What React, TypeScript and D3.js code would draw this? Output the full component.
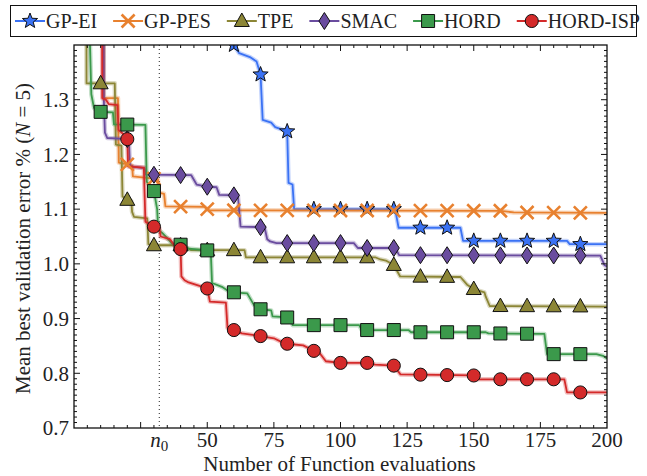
import React, { Component } from 'react';
import * as d3 from 'd3';

// mean best error (%) vs. evaluations as [eval, value] breakpoints
const gpEI = [
  [50, 1.7], [58, 1.45], [60, 1.40], [62, 1.385], [66, 1.378], [68.5, 1.37], [70, 1.346],
  [70.8, 1.263], [74, 1.258], [75.5, 1.25], [80, 1.242], [80.5, 1.148], [82, 1.145],
  [82.6, 1.10], [120.5, 1.10], [121.8, 1.066], [145, 1.066], [146, 1.042], [185, 1.042],
  [186, 1.036], [200, 1.036],
];
const gpPES = [
  [11, 1.9], [11.2, 1.303], [16.5, 1.303], [16.8, 1.185], [21.8, 1.18], [22.1, 1.16],
  [27.3, 1.157], [31.5, 1.155], [31.8, 1.13], [33.8, 1.128], [34.3, 1.105], [49, 1.104],
  [50.5, 1.098], [160, 1.097], [165, 1.094], [200, 1.093],
];
const tpe = [
  [4.5, 1.9], [4.7, 1.33], [15.3, 1.33], [15.7, 1.218], [17.8, 1.216], [18.2, 1.123],
  [20, 1.117], [21.5, 1.115], [21.8, 1.095], [22.5, 1.086], [27.5, 1.083], [27.9, 1.036],
  [30, 1.034], [40, 1.034], [42.3, 1.029], [44, 1.025], [64, 1.025], [64.5, 1.012],
  [113, 1.012], [115, 1.008], [117, 1.006], [120, 0.998], [122.4, 0.977], [145, 0.976],
  [147.5, 0.962], [150, 0.954], [154, 0.948], [154.5, 0.940], [156, 0.923], [200, 0.922],
];
const smac = [
  [11, 1.9], [11.2, 1.30], [11.6, 1.24], [12.5, 1.23], [20.6, 1.228], [21, 1.178],
  [26.5, 1.175], [27, 1.163], [44, 1.162], [46, 1.145], [50, 1.141], [53.5, 1.14],
  [54.5, 1.126], [61.5, 1.125], [62.5, 1.068], [71.5, 1.067], [72.5, 1.045], [73.6, 1.041],
  [76, 1.038], [105, 1.038], [106.5, 1.029], [120.5, 1.029], [122, 1.016], [197.5, 1.015],
  [199, 0.998], [200, 0.995],
];
const hord = [
  [5.8, 1.9], [6.0, 1.40], [6.5, 1.31], [7.5, 1.285], [9, 1.278], [14.6, 1.277], [15, 1.255],
  [26.8, 1.254], [27.3, 1.15], [30, 1.133], [31.2, 1.10], [31.6, 1.062], [33, 1.057],
  [35, 1.047], [37, 1.036], [40, 1.035], [43, 1.028], [51.3, 1.024], [51.8, 0.965],
  [55.5, 0.958], [58, 0.95], [60, 0.948], [65, 0.946], [67.5, 0.925], [70, 0.917],
  [74, 0.915], [74.5, 0.904], [80, 0.902], [81.5, 0.90], [82, 0.888], [107, 0.888],
  [108, 0.879], [125.5, 0.879], [126.5, 0.875], [154.5, 0.875], [155.5, 0.873],
  [176.5, 0.872], [177.5, 0.835], [196, 0.835], [198.5, 0.832], [200, 0.827],
];
const hordISP = [
  [10.4, 1.9], [10.6, 1.303], [12, 1.30], [13, 1.292], [16.3, 1.29], [16.7, 1.245],
  [19, 1.235], [20, 1.228], [20.3, 1.178], [26.2, 1.176], [26.8, 1.077], [30, 1.068],
  [32, 1.066], [32.5, 1.05], [36, 1.045], [38, 1.032], [40, 1.027], [40.3, 0.977],
  [41.5, 0.97], [43, 0.966], [50, 0.955], [51, 0.931], [57, 0.929], [57.6, 0.883],
  [60, 0.879], [63, 0.873], [70, 0.868], [75, 0.864], [78, 0.857], [80, 0.854], [86, 0.851],
  [90, 0.841], [92, 0.838], [94.5, 0.822], [100, 0.819], [110, 0.819], [113, 0.816],
  [120, 0.814], [122.5, 0.798], [150, 0.796], [151, 0.789], [184, 0.789], [185, 0.765],
  [200, 0.765],
];

const names = ['GP-EI', 'GP-PES', 'TPE', 'SMAC', 'HORD', 'HORD-ISP'];
const colors = ['#3a72f4', '#e8812f', '#8c8636', '#6a4c9f', '#3b994b', '#d42a2a'];
const shapes = ['star', 'x', 'triangle', 'diamond', 'square', 'circle'];
const allSeries = [gpEI, gpPES, tpe, smac, hord, hordISP];
const markerX = d3.range(10, 200, 10);
const n0 = 32;
const yTicks = [0.7, 0.8, 0.9, 1.0, 1.1, 1.2, 1.3];
const xTickLabels = [50, 75, 100, 125, 150, 175, 200];

function valueAt(pts, x) {
  if (x < pts[0][0]) return 2;
  for (let i = 1; i < pts.length; i++) {
    if (x <= pts[i][0]) {
      const t = (x - pts[i - 1][0]) / (pts[i][0] - pts[i - 1][0]);
      return pts[i - 1][1] + t * (pts[i][1] - pts[i - 1][1]);
    }
  }
  return pts[pts.length - 1][1];
}

function markerPath(shape) {
  if (shape === 'star') {
    let p = [];
    for (let i = 0; i < 10; i++) {
      const r = i % 2 === 0 ? 8 : 3.4;
      const a = -Math.PI / 2 + (i * Math.PI) / 5;
      p.push([r * Math.cos(a), r * Math.sin(a)]);
    }
    return 'M' + p.map(d => d.join(',')).join('L') + 'Z';
  }
  if (shape === 'triangle') return 'M0,-8L7.5,5.5L-7.5,5.5Z';
  if (shape === 'diamond') return 'M0,-8.5L5.5,0L0,8.5L-5.5,0Z';
  if (shape === 'square') return 'M-6.5,-6.5L6.5,-6.5L6.5,6.5L-6.5,6.5Z';
  if (shape === 'x') return 'M-6.5,-6.5L6.5,6.5M-6.5,6.5L6.5,-6.5';
  return d3.symbol(d3.symbolCircle, 135)();
}

function drawMarker(g, shape, color, x, y) {
  const m = g.append('path')
    .attr('d', markerPath(shape))
    .attr('transform', `translate(${x},${y})`);
  if (shape === 'x') {
    m.attr('fill', 'none').attr('stroke', color).attr('stroke-width', 2.6);
  } else {
    m.attr('fill', color).attr('stroke', '#111').attr('stroke-width', 1);
  }
}

class App extends Component {
  node: any = null;

  componentDidMount() {
    document.body.style.margin = '0';
    const L = 74, R = 607, T = 45, B = 428;
    const font = '"Liberation Serif", "DejaVu Serif", serif';
    const svg = d3.select(this.node);
    svg.selectAll('*').remove();

    const x = d3.scaleLinear().domain([0, 200]).range([L, R]);
    const y = d3.scaleLinear().domain([0.7, 1.4]).range([B, T]);

    svg.append('rect').attr('width', 647).attr('height', 476).attr('fill', '#fff');
    svg.append('defs').append('clipPath').attr('id', 'plotclip')
      .append('rect').attr('x', L).attr('y', T).attr('width', R - L).attr('height', B - T);

    const plot = svg.append('g').attr('clip-path', 'url(#plotclip)');

    // n0 marker line
    plot.append('line')
      .attr('x1', x(n0)).attr('x2', x(n0)).attr('y1', T).attr('y2', B)
      .attr('stroke', '#222').attr('stroke-width', 1).attr('stroke-dasharray', '1,3');

    const line = d3.line().x(d => x(d[0])).y(d => y(d[1]));

    allSeries.forEach((s, i) => {
      plot.append('path').attr('d', line(s)).attr('fill', 'none')
        .attr('stroke', colors[i]).attr('stroke-width', 4.5).attr('stroke-opacity', 0.3)
        .attr('stroke-linejoin', 'round');
      plot.append('path').attr('d', line(s)).attr('fill', 'none')
        .attr('stroke', colors[i]).attr('stroke-width', 1.8)
        .attr('stroke-linejoin', 'round');
    });
    allSeries.forEach((s, i) => {
      markerX.forEach(mx => {
        const v = valueAt(s, mx);
        if (v > 1.45) return;
        drawMarker(plot, shapes[i], colors[i], x(mx), y(v));
      });
    });

    // axes frame
    svg.append('rect').attr('x', L).attr('y', T).attr('width', R - L).attr('height', B - T)
      .attr('fill', 'none').attr('stroke', '#111').attr('stroke-width', 1.3);

    const ticks = svg.append('g').attr('stroke', '#111').attr('stroke-width', 1);
    d3.range(5, 200, 5).forEach(v => {
      const len = v % 25 === 0 ? 6 : 3;
      ticks.append('line').attr('x1', x(v)).attr('x2', x(v)).attr('y1', B).attr('y2', B - len);
      ticks.append('line').attr('x1', x(v)).attr('x2', x(v)).attr('y1', T).attr('y2', T + len);
    });
    d3.range(71, 140, 1).forEach(k => {
      const v = k / 100;
      const len = k % 10 === 0 ? 6 : 3;
      ticks.append('line').attr('x1', L).attr('x2', L + len).attr('y1', y(v)).attr('y2', y(v));
      ticks.append('line').attr('x1', R).attr('x2', R - len).attr('y1', y(v)).attr('y2', y(v));
    });

    const txt = svg.append('g').attr('font-family', font).attr('font-size', 21).attr('fill', '#222');
    yTicks.forEach(v => {
      txt.append('text').attr('x', L - 5).attr('y', y(v)).attr('dy', '0.35em')
        .attr('text-anchor', 'end').text(d3.format('.1f')(v));
    });
    xTickLabels.forEach(v => {
      txt.append('text').attr('x', x(v)).attr('y', B + 19).attr('text-anchor', 'middle').text(v);
    });
    const n0t = txt.append('text').attr('x', x(n0)).attr('y', B + 19).attr('text-anchor', 'middle');
    n0t.append('tspan').attr('font-style', 'italic').text('n');
    n0t.append('tspan').attr('font-size', 15).attr('dy', 4).text('0');

    txt.append('text').attr('x', (L + R) / 2 - 1).attr('y', 471).attr('text-anchor', 'middle')
      .text('Number of Function evaluations');
    const yl = txt.append('text')
      .attr('transform', `translate(30,${(T + B) / 2 + 2}) rotate(-90)`)
      .attr('text-anchor', 'middle');
    yl.append('tspan').text('Mean best validation error % (');
    yl.append('tspan').attr('font-style', 'italic').text('N');
    yl.append('tspan').text(' = 5)');

    // legend
    const leg = svg.append('g');
    leg.append('rect').attr('x', 10.5).attr('y', 5.5).attr('width', 626).attr('height', 31)
      .attr('fill', '#fff').attr('stroke', '#111').attr('stroke-width', 1);
    let cx = 15;
    names.forEach((n, i) => {
      leg.append('line').attr('x1', cx).attr('x2', cx + 30).attr('y1', 21).attr('y2', 21)
        .attr('stroke', colors[i]).attr('stroke-width', 2);
      drawMarker(leg, shapes[i], colors[i], cx + 15, 21);
      const t = leg.append('text').attr('x', cx + 31).attr('y', 28)
        .attr('font-family', font).attr('font-size', 20).attr('fill', '#222').text(n);
      const w = (t.node() as any).getComputedTextLength();
      cx += 31 + w + 16;
    });
  }

  render() {
    return (
      <svg ref={el => { this.node = el; }} width={647} height={476}
        style={{ display: 'block' }} />
    );
  }
}

export default App;
